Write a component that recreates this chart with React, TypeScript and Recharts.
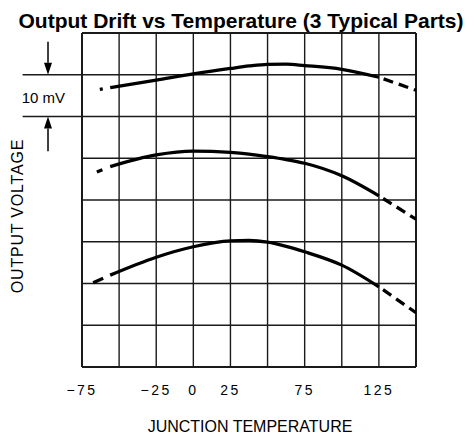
import React from 'react'
import { LineChart, Line, XAxis, YAxis, ReferenceLine, ReferenceDot } from 'recharts'

// grid and ticks
const gridTemps = [-75, -50, -25, 0, 25, 50, 75, 100, 125, 150]
const gridVolts = [0, 10, 20, 30, 40, 50, 60, 70, 80]
const tempTicks = [-75, -25, 0, 25, 75, 125]

// solid part of each curve (mV, arbitrary offset)
const solidTemps = [-56, -25, 0, 25, 37.5, 50, 62.5, 75, 100, 125]
const partA = [66.9, 68.7, 70.2, 71.5, 72.1, 72.5, 72.55, 72.2, 71.3, 69.4]
const partB = [48.0, 50.8, 51.7, 51.4, 51.0, 50.4, 49.7, 48.8, 45.8, 41.0]
const partC = [22.0, 26.3, 28.8, 30.2, 30.3, 29.9, 28.9, 27.6, 24.4, 19.2]

// dashed ends
const leftTempsA = [-63, -56]
const leftA = [66.5, 66.9]
const leftTempsB = [-65, -56]
const leftB = [46.7, 48.0]
const leftTempsC = [-67.5, -56]
const leftC = [20.2, 22.0]
const rightTemps = [125, 150]
const rightA = [69.4, 66.3]
const rightB = [41.0, 35.4]
const rightC = [19.2, 13.0]

const rows = (temps: number[], vals: number[]) => temps.map((t, i) => ({ t, v: vals[i] }))

const Arrow = (p: any) => {
  const { x1, y1, x2, y2 } = p
  const dir = Math.sign(y2 - y1)
  const head = 12
  const hw = 4
  return (
    <g>
      <line x1={x1} y1={y1} x2={x2} y2={y2 - dir * head} stroke="#000" strokeWidth={1.5} />
      <polygon
        points={`${x2},${y2} ${x2 - hw},${y2 - dir * head} ${x2 + hw},${y2 - dir * head}`}
        fill="#000"
      />
    </g>
  )
}

const yLabel = (props: any) => {
  const vb = props.viewBox || { x: 0, y: 33, width: 82, height: 334 }
  const x = vb.x + 23
  const y = vb.y + vb.height / 2 + 16
  return (
    <text x={x} y={y} transform={`rotate(-90, ${x}, ${y})`} textAnchor="middle" fontSize={16} letterSpacing={0.8} fill="#000">
      OUTPUT VOLTAGE
    </text>
  )
}

const xLabel = (props: any) => {
  const vb = props.viewBox || { x: 82, y: 367, width: 334, height: 68 }
  return (
    <text x={vb.x + vb.width / 2 + 1} y={vb.y + 65} textAnchor="middle" fontSize={16} fill="#000">
      JUNCTION TEMPERATURE
    </text>
  )
}

export default function App() {
  const curve = { stroke: '#000', strokeWidth: 3.3, dot: false, isAnimationActive: false }
  return (
    <div
      style={{
        position: 'absolute',
        left: 0,
        top: 0,
        width: 474,
        height: 435,
        background: '#fff',
        fontFamily: "'Liberation Sans', Arial, sans-serif",
      }}
    >
      <div
        style={{
          position: 'absolute',
          top: 9,
          left: 0,
          width: 474,
          paddingLeft: 8,
          boxSizing: 'border-box',
          textAlign: 'center',
          fontWeight: 'bold',
          fontSize: 21,
          lineHeight: '24px',
          color: '#000',
        }}
      >
        Output Drift vs Temperature (3 Typical Parts)
      </div>
      <LineChart width={474} height={435} margin={{ top: 33, right: 58, bottom: 0, left: 0 }}>
        <XAxis
          type="number"
          dataKey="t"
          domain={[-75, 150]}
          ticks={tempTicks}
          allowDataOverflow
          height={68}
          axisLine={false}
          tickLine={false}
          tickSize={0}
          tickMargin={18}
          tickFormatter={(v: number) => String(v).replace('-', '\u2212')}
          tick={{ fontSize: 14, fill: '#000', letterSpacing: 2.5 }}
          label={xLabel}
        />
        <YAxis
          type="number"
          domain={[0, 80]}
          allowDataOverflow
          width={82}
          tick={false}
          axisLine={false}
          tickLine={false}
          label={yLabel}
        />
        {gridTemps.map((t) => (
          <ReferenceLine
            key={'gx' + t}
            x={t}
            stroke="#1a1a1a"
            strokeWidth={t === -75 || t === 150 ? 2 : 1.4}
          />
        ))}
        {gridVolts.map((v) => (
          <ReferenceLine
            key={'gy' + v}
            y={v}
            stroke="#1a1a1a"
            strokeWidth={v === 0 || v === 80 ? 2 : 1.4}
          />
        ))}
        {/* 10 mV scale marker */}
        <ReferenceLine
          segment={[{ x: -115, y: 70 }, { x: -75, y: 70 }]}
          ifOverflow="visible"
          stroke="#1a1a1a"
          strokeWidth={1.4}
        />
        <ReferenceLine
          segment={[{ x: -115, y: 60 }, { x: -75, y: 60 }]}
          ifOverflow="visible"
          stroke="#1a1a1a"
          strokeWidth={1.4}
        />
        <ReferenceLine
          segment={[{ x: -97.9, y: 77.9 }, { x: -97.9, y: 70 }]}
          ifOverflow="visible"
          shape={Arrow}
        />
        <ReferenceLine
          segment={[{ x: -97.9, y: 51.7 }, { x: -97.9, y: 60 }]}
          ifOverflow="visible"
          shape={Arrow}
        />
        <ReferenceDot
          x={-101}
          y={64.6}
          r={0}
          ifOverflow="visible"
          label={{ value: '10 mV', position: 'center', fontSize: 15, fill: '#000' }}
        />

        <Line {...curve} data={rows(solidTemps, partA)} dataKey="v" type="monotone" />
        <Line {...curve} data={rows(solidTemps, partB)} dataKey="v" type="monotone" />
        <Line {...curve} data={rows(solidTemps, partC)} dataKey="v" type="monotone" />

        <Line {...curve} data={rows(leftTempsA, leftA)} dataKey="v" type="linear" strokeDasharray="3 30" />
        <Line {...curve} data={rows(leftTempsB, leftB)} dataKey="v" type="linear" strokeDasharray="6 30" />
        <Line {...curve} data={rows(leftTempsC, leftC)} dataKey="v" type="linear" strokeDasharray="11 30" />

        <Line {...curve} data={rows(rightTemps, rightA)} dataKey="v" type="linear" strokeDasharray="10 6" strokeDashoffset={11} />
        <Line {...curve} data={rows(rightTemps, rightB)} dataKey="v" type="linear" strokeDasharray="10 6" strokeDashoffset={11} />
        <Line {...curve} data={rows(rightTemps, rightC)} dataKey="v" type="linear" strokeDasharray="10 6" strokeDashoffset={11} />
      </LineChart>
    </div>
  )
}
